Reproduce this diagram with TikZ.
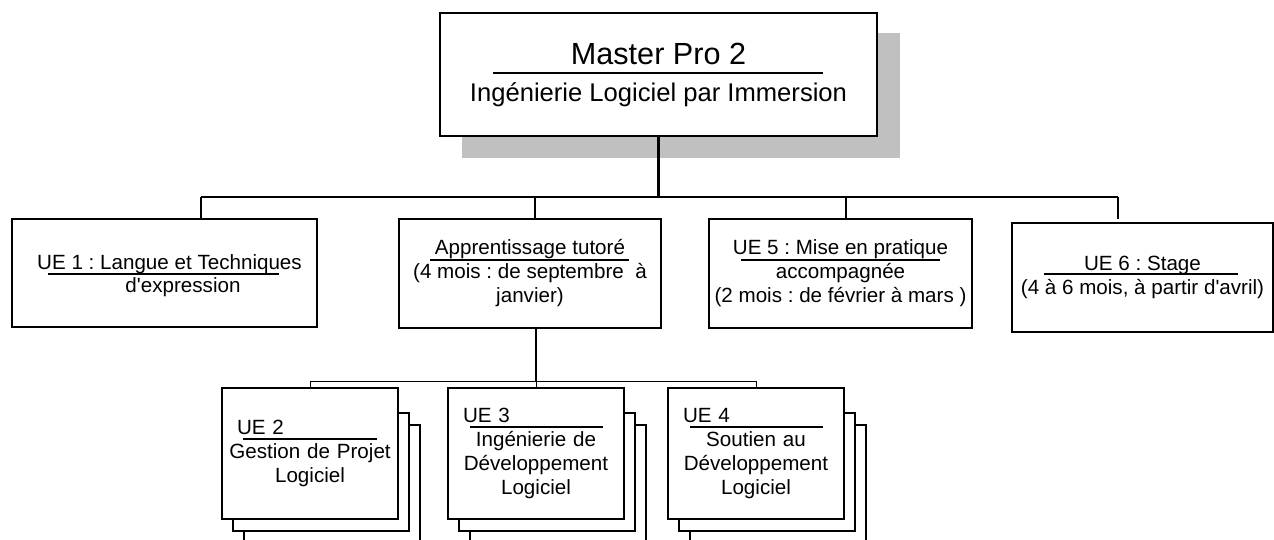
\documentclass[tikz,border=0pt]{standalone}
\usepackage{fontspec}
\usepackage{xcolor}
\usepackage{tikz}
\usetikzlibrary{positioning}
\newfontfamily\orgfont{Liberation Sans}
\definecolor{shadowgray}{RGB}{192,192,192}
\frenchspacing
\tikzset{
unit box/.style = { rectangle, draw = black, fill = white, line width = 0.9pt, inner sep = 0pt, align = center, font = \orgfont\fontsize{10.3}{12}\selectfont },
bus/.style = { draw = black, line width = 0.7pt },
thin bus/.style = { draw = black, line width = 0.5pt },
stem/.style = { draw = black, line width = 1.1pt },
underline/.style = { draw = black, line width = 0.6pt },
}
\tikzset{
pics/ue stack/.style args={#1, #2}{
        code = {
        \path[draw = black, fill = white, line width = 0.9pt] (-66, -28.5) rectangle (110, 100);
        \path[draw = black, fill = white, line width = 0.9pt] (-77, -40.5) rectangle (99, 77.5);
        \node[unit box, minimum width = 88pt, minimum height = 65.5pt, text width = 84pt] (-front) at (0.0, 0.0) {\hspace*{5.5pt}#1\hfill\null\\#2};
        }
    }
}

\begin{document}
\begin{tikzpicture}[x = 0.5pt, y = -0.5pt]
    \useasboundingbox (0, 0) rectangle (1274, 540);
    \clip (0, 0) rectangle (1274, 540);
    % top box with its shadow
    \path[fill = shadowgray] (462, 33) rectangle (900, 158);
    \node[unit box, minimum width = 218.5pt, minimum height = 61.5pt, font = \orgfont] (master) at (658.5, 74.5) {{\fontsize{15.3}{18}\selectfont Master Pro 2}\\[6.5pt]{\fontsize{12.8}{15}\selectfont Ingénierie Logiciel par Immersion}};
    \path[underline] (493, 73) -- (823, 73);
    % first row
    \node[unit box, minimum width = 152.5pt, minimum height = 54pt] (ue1) at (164.5, 273) {\rule{0pt}{10.6pt}\hspace*{5pt}UE 1 : Langue et Techniques\\[-0.5pt]\hspace*{18.5pt}d'expression};
    \node[unit box, minimum width = 131pt, minimum height = 54.5pt] (appr) at (530, 273.5) {Apprentissage tutoré\\(4 mois : de septembre~ à\\janvier)};
    \node[unit box, minimum width = 131.5pt, minimum height = 54.5pt] (ue5) at (840.5, 273.5) {UE 5 : Mise en pratique\\accompagnée\\(2 mois : de février à mars )};
    \node[unit box, minimum width = 130.5pt, minimum height = 54.5pt] (ue6) at (1142.5, 277.5) {UE 6 : Stage\\(4 à 6 mois, à partir d'avril)};
    \path[underline] (48, 274) -- (279, 274);
    \path[underline] (430, 260) -- (629, 260);
    \path[underline] (741, 260) -- (940, 260);
    \path[underline] (1044, 274) -- (1238, 274);
    \coordinate (bus ue1) at (201, 197);
    \coordinate (bus appr) at (535, 197);
    \coordinate (bus ue5) at (846, 197);
    \coordinate (bus ue6) at (1118, 197);
    \draw[stem] (master.south) -- (master.south |- bus ue1);
    \draw[bus] (bus ue1) -- (bus ue6);
    \draw[bus] (bus ue1) -- (bus ue1 |- ue1.north);
    \draw[bus] (bus appr) -- (bus appr |- appr.north);
    \draw[bus] (bus ue5) -- (bus ue5 |- ue5.north);
    \draw[bus, shorten >= 1.5pt] (bus ue6) -- (bus ue6 |- ue6.north);
    % second row
    \path (310, 453.5) pic (ue2) {ue stack = {UE 2, Gestion de Projet\\Logiciel}};
    \path (536, 453.5) pic (ue3) {ue stack = {UE 3, Ingénierie de\\Développement\\Logiciel}};
    \path (756, 453.5) pic (ue4) {ue stack = {UE 4, Soutien au\\Développement\\Logiciel}};
    \path[underline] (243, 439) -- (377, 439);
    \path[underline] (470, 427) -- (603, 427);
    \path[underline] (690, 427) -- (823, 427);
    \coordinate (sub bus) at (536, 381);
    \draw[bus] (sub bus |- appr.south) -- (sub bus);
    \draw[thin bus] (ue2-front.north |- sub bus) -- (ue4-front.north |- sub bus);
    \draw[thin bus] (ue2-front.north |- sub bus) -- (ue2-front.north);
    \draw[thin bus] (ue3-front.north |- sub bus) -- (ue3-front.north);
    \draw[thin bus] (ue4-front.north |- sub bus) -- (ue4-front.north);
\end{tikzpicture}
\end{document}
